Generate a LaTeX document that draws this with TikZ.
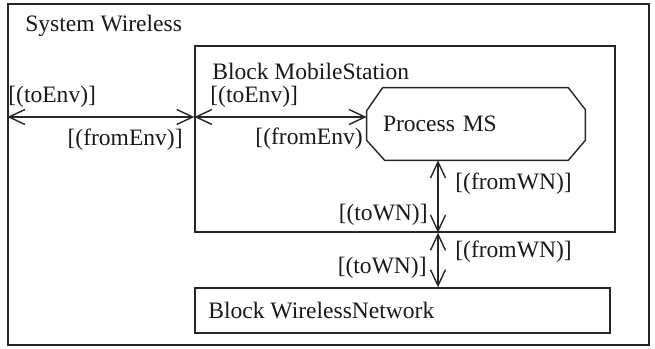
\documentclass[tikz,border=0pt]{standalone}
\usepackage{fontspec}
\setmainfont{Liberation Serif}
\usepackage{tikz}
\usetikzlibrary{arrows.meta}

\tikzset{
  frame/.style = {draw=black!85, line width=0.8pt, rectangle, inner sep=0pt},
  lbl/.style   = {inner xsep=0pt, inner ysep=1pt, text=black!90},
  chan/.style  = {draw=black!85, line width=0.8pt, <->,
                  >={Straight Barb[length=0.32cm,width=0.3cm]}}
}

\begin{document}
\begin{tikzpicture}[x=0.02cm, y=-0.02cm, font=\fontsize{13.4}{16}\selectfont]
                \useasboundingbox (0,0) rectangle (655,348);

                % Frames
                \node[frame, minimum width=12.82cm, minimum height=6.82cm] (sys) at (328.5,174.5) {};
                \node[frame, minimum width=8.4cm, minimum height=3.72cm] (blkMS) at (405,139) {};
                \node[frame, minimum width=8.3cm, minimum height=0.9cm] (blkWN) at (402.5,310.5) {};

                % Process inside the mobile station (octagon drawn round the text node)
                \node[minimum width=4.36cm, minimum height=1.44cm, inner sep=0pt,
                      text width=3.72cm, align=left, text=black!90] (procMS) at (476,124) {Process MS};
                \draw[black!85, line width=0.8pt]
                  ([xshift=0.32cm]procMS.north west) -- ([xshift=-0.34cm]procMS.north east)
                  -- ([yshift=-0.44cm]procMS.north east) -- ([yshift=0.4cm]procMS.south east)
                  -- ([xshift=-0.34cm]procMS.south east) -- ([xshift=0.36cm]procMS.south west)
                  -- ([yshift=0.4cm]procMS.south west) -- ([yshift=-0.46cm]procMS.north west) -- cycle;

                % Titles
                \node[lbl, anchor=west] (sysTitle) at (25,26) {System Wireless};
                \node[lbl, anchor=west] (msTitle) at (212,71) {Block MobileStation};
                \node[lbl, anchor=west] (wnTitle) at (208,311) {Block WirelessNetwork};

                % Environment channels
                \draw[chan] (sys.west |- 0,117) -- (blkMS.west |- 0,117);
                \draw[chan] (blkMS.west |- 0,117) -- (procMS.west |- 0,117);
                \node[lbl, anchor=west] (toEnvA) at (8,97) {[(toEnv)]};
                \node[lbl, anchor=east] (fromEnvA) at (183,140) {[(fromEnv)]};
                \node[lbl, anchor=west] (toEnvB) at (210,97) {[(toEnv)]};
                \node[lbl, anchor=east] (fromEnvB) at (363,139) {[(fromEnv)};

                % Network channels
                \draw[chan] (procMS.south -| 438,0) -- (blkMS.south -| 438,0);
                \draw[chan] (blkMS.south -| 438,0) -- (blkWN.north -| 438,0);
                \node[lbl, anchor=west] (fromWNA) at (455,184) {[(fromWN)]};
                \node[lbl, anchor=east] (toWNA) at (428,215) {[(toWN)]};
                \node[lbl, anchor=west] (fromWNB) at (455,252) {[(fromWN)]};
                \node[lbl, anchor=east] (toWNB) at (427,268) {[(toWN)]};
\end{tikzpicture}
\end{document}
